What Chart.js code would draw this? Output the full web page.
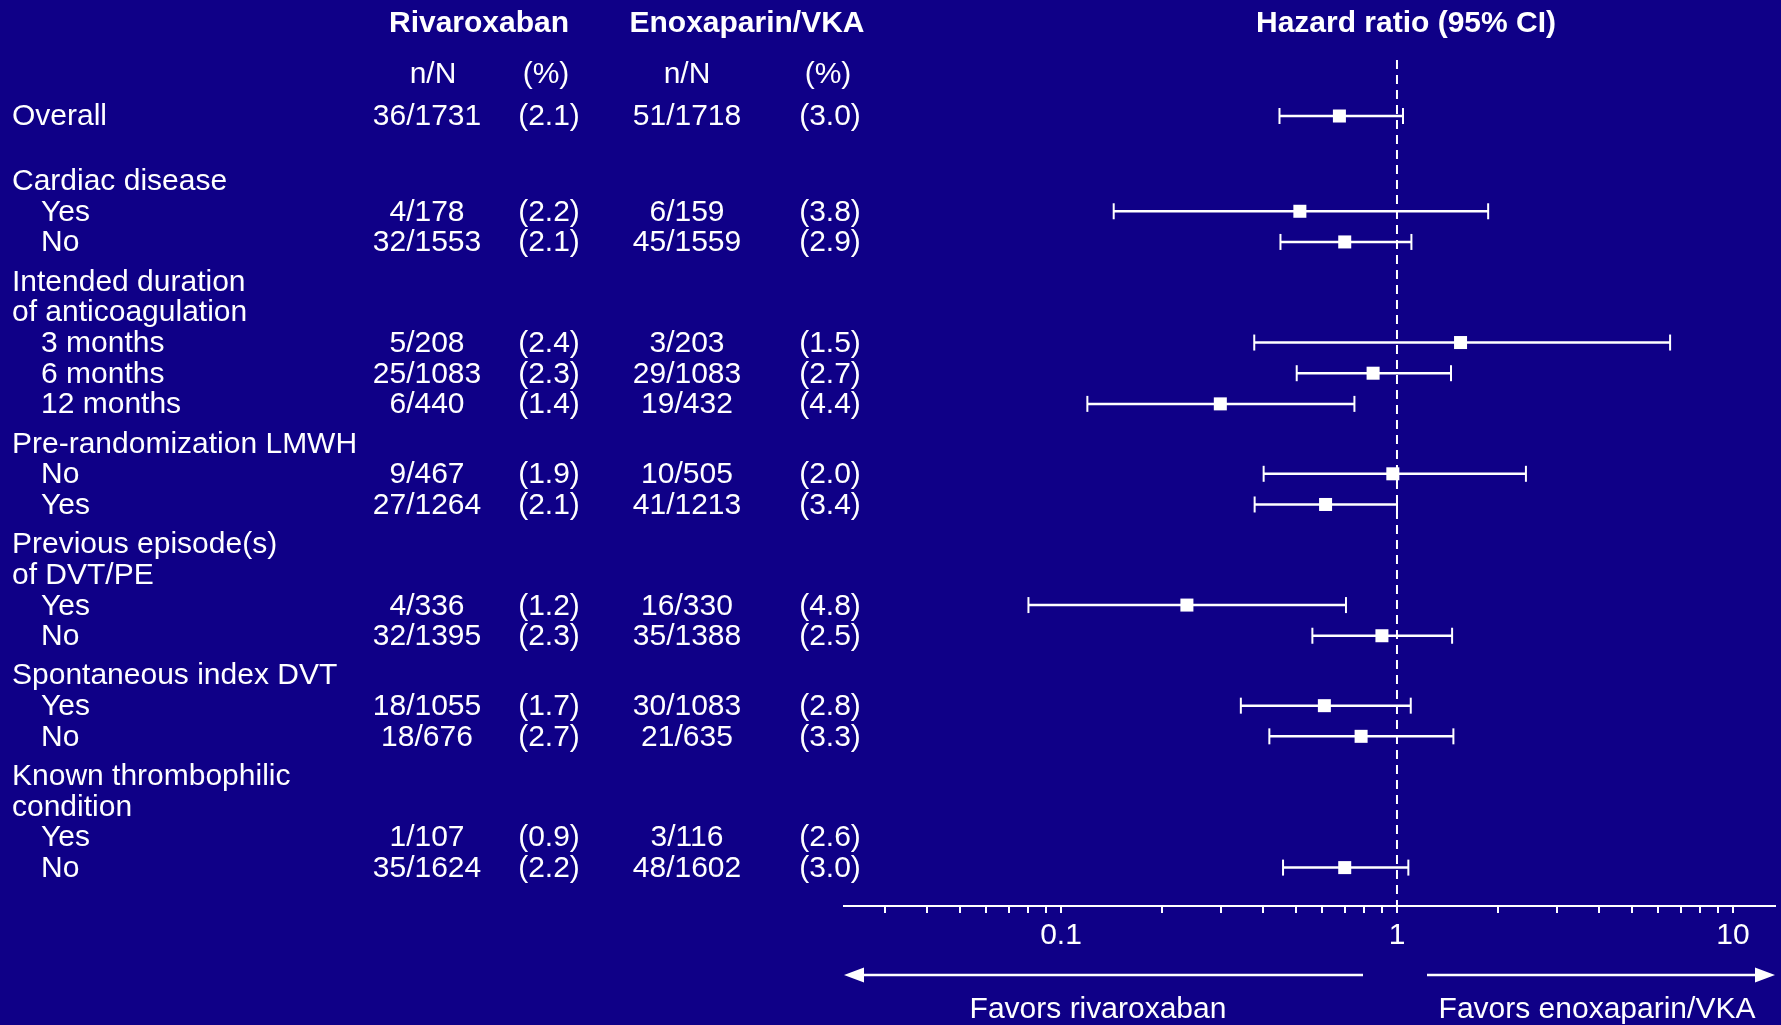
<!DOCTYPE html>
<html>
<head>
<meta charset="utf-8">
<script src="https://cdn.jsdelivr.net/npm/chart.js@4.4.1/dist/chart.umd.min.js"></script>
<style>
html,body{margin:0;padding:0;background:#0f0087;overflow:hidden}
canvas{display:block}
</style>
</head>
<body>
<canvas id="c" width="1781" height="1025"></canvas>
<script>
// ---------------- DATA ----------------
const rowLabels = ['Overall', 'Cardiac disease', 'Yes', 'No', 'Intended duration', 'of anticoagulation',
  '3 months', '6 months', '12 months', 'Pre-randomization LMWH', 'No', 'Yes',
  'Previous episode(s)', 'of DVT/PE', 'Yes', 'No', 'Spontaneous index DVT', 'Yes', 'No',
  'Known thrombophilic', 'condition', 'Yes', 'No'];
const rivEvents  = [36, null, 4, 32, null, null, 5, 25, 6, null, 9, 27, null, null, 4, 32, null, 18, 18, null, null, 1, 35];
const rivTotal   = [1731, null, 178, 1553, null, null, 208, 1083, 440, null, 467, 1264, null, null, 336, 1395, null, 1055, 676, null, null, 107, 1624];
const rivPct     = [2.1, null, 2.2, 2.1, null, null, 2.4, 2.3, 1.4, null, 1.9, 2.1, null, null, 1.2, 2.3, null, 1.7, 2.7, null, null, 0.9, 2.2];
const enoxEvents = [51, null, 6, 45, null, null, 3, 29, 19, null, 10, 41, null, null, 16, 35, null, 30, 21, null, null, 3, 48];
const enoxTotal  = [1718, null, 159, 1559, null, null, 203, 1083, 432, null, 505, 1213, null, null, 330, 1388, null, 1083, 635, null, null, 116, 1602];
const enoxPct    = [3.0, null, 3.8, 2.9, null, null, 1.5, 2.7, 4.4, null, 2.0, 3.4, null, null, 4.8, 2.5, null, 2.8, 3.3, null, null, 2.6, 3.0];
const hazardRatio = [0.674, null, 0.514, 0.699, null, null, 1.546, 0.849, 0.298, null, 0.972, 0.613, null, null, 0.237, 0.902, null, 0.608, 0.782, null, null, null, 0.699];
const ciLower     = [0.447, null, 0.1435, 0.450, null, null, 0.376, 0.503, 0.1198, null, 0.401, 0.377, null, null, 0.080, 0.560, null, 0.343, 0.417, null, null, null, 0.458];
const ciUpper     = [1.042, null, 1.868, 1.104, null, null, 6.50, 1.448, 0.747, null, 2.42, 1.00, null, null, 0.705, 1.459, null, 1.099, 1.472, null, null, null, 1.081];
const majorTicks = [0.1, 1, 10];
const majorTickLabels = ['0.1', '1', '10'];
const minorTicks = [0.03, 0.04, 0.05, 0.06, 0.07, 0.08, 0.09, 0.2, 0.3, 0.4, 0.5, 0.6, 0.7, 0.8, 0.9, 2, 3, 4, 5, 6, 7, 8, 9];
const groupHeaders = ['Rivaroxaban', 'Enoxaparin/VKA'];
const columnHeaders = ['n/N', '(%)', 'n/N', '(%)'];
const plotTitle = 'Hazard ratio (95% CI)';
const favorLabels = ['Favors rivaroxaban', 'Favors enoxaparin/VKA'];

// ---------------- LAYOUT ----------------
const W = 1781, H = 1025;
const BG = '#0f0087', FG = '#ffffff';
const FONT = "'Liberation Sans', Arial, Helvetica, sans-serif";
const FS = 30;
const TXT_DY = 1.2;
const X_MIN = 0.0226, X_MAX = 13.34;
const AXIS_Y = 906;
const Y_MIN = -3, Y_MAX = 25.758;
const FIRST_GAP = 1.106, HEAD_GAP = 0.28;

// row positions (in row units), computed from structure
const rowPos = [];
(function () {
  let p = 0;
  rowLabels.forEach((lab, i) => {
    if (i > 0) {
      p += 1;
      const headStart = rivEvents[i] === null && rivEvents[i - 1] !== null;
      if (headStart) p += (i === 1 ? FIRST_GAP : HEAD_GAP);
    }
    rowPos.push(p);
  });
})();

const allTicks = majorTicks.concat(minorTicks).sort((a, b) => a - b);

// datasets
const datasets = [];
rowLabels.forEach((lab, i) => {
  if (hazardRatio[i] === null) return;
  datasets.push({
    type: 'line',
    data: [{x: ciLower[i], y: rowPos[i]}, {x: ciUpper[i], y: rowPos[i]}],
    borderColor: FG,
    borderWidth: 2.5,
    pointStyle: 'line',
    pointRotation: 90,
    pointRadius: 8,
    pointBorderWidth: 2,
    pointBorderColor: FG,
    pointBackgroundColor: FG,
    fill: false,
    order: 2
  });
});
datasets.push({
  type: 'scatter',
  data: rowLabels.map((l, i) => hazardRatio[i] === null ? null : {x: hazardRatio[i], y: rowPos[i]}).filter(d => d),
  pointStyle: 'rect',
  pointRadius: 9.2,
  backgroundColor: FG,
  borderWidth: 0,
  order: 1
});

const fmtPct = v => '(' + v.toFixed(1) + ')';

const bgPlugin = {
  id: 'bg',
  beforeDraw(chart) {
    const ctx = chart.ctx;
    ctx.save();
    ctx.fillStyle = BG;
    ctx.fillRect(0, 0, chart.width, chart.height);
    ctx.restore();
  },
  beforeDatasetsDraw(chart) {
    const ctx = chart.ctx, xs = chart.scales.x;
    const x = xs.getPixelForValue(1);
    ctx.save();
    ctx.strokeStyle = FG;
    ctx.lineWidth = 2;
    ctx.setLineDash([9, 6]);
    ctx.beginPath();
    ctx.moveTo(x, 60);
    ctx.lineTo(x, chart.chartArea.bottom);
    ctx.stroke();
    ctx.restore();
  }
};

const textPlugin = {
  id: 'texts',
  afterDraw(chart) {
    const ctx = chart.ctx, ys = chart.scales.y;
    ctx.save();
    ctx.fillStyle = FG;
    ctx.textBaseline = 'middle';
    // headers
    ctx.font = 'bold ' + FS + 'px ' + FONT;
    ctx.textAlign = 'center';
    ctx.fillText(groupHeaders[0], 479, 23 + TXT_DY);
    ctx.fillText(groupHeaders[1], 747, 23 + TXT_DY);
    ctx.fillText(plotTitle, 1406, 23 + TXT_DY);
    ctx.font = FS + 'px ' + FONT;
    const hdrX = [433, 546, 687, 828];
    columnHeaders.forEach((t, k) => ctx.fillText(t, hdrX[k], 74 + TXT_DY));
    // rows
    rowLabels.forEach((lab, i) => {
      const y = ys.getPixelForValue(rowPos[i]) + TXT_DY;
      const isSub = i > 0 && rivEvents[i] !== null;
      ctx.textAlign = 'left';
      ctx.fillText(lab, isSub ? 41 : 12, y);
      if (rivEvents[i] !== null) {
        ctx.textAlign = 'center';
        ctx.fillText(rivEvents[i] + '/' + rivTotal[i], 427, y);
        ctx.fillText(fmtPct(rivPct[i]), 549, y);
        ctx.fillText(enoxEvents[i] + '/' + enoxTotal[i], 687, y);
        ctx.fillText(fmtPct(enoxPct[i]), 830, y);
      }
    });
    // arrows
    const ay = 975;
    const left0 = chart.chartArea.left, left1 = 1363;
    const right0 = 1427, right1 = chart.chartArea.right;
    ctx.strokeStyle = FG;
    ctx.lineWidth = 2.5;
    ctx.beginPath();
    ctx.moveTo(left1, ay); ctx.lineTo(left0 + 16, ay);
    ctx.moveTo(right0, ay); ctx.lineTo(right1 - 16, ay);
    ctx.stroke();
    ctx.beginPath();
    ctx.moveTo(left0, ay); ctx.lineTo(left0 + 20, ay - 7.5); ctx.lineTo(left0 + 20, ay + 7.5); ctx.closePath();
    ctx.moveTo(right1, ay); ctx.lineTo(right1 - 20, ay - 7.5); ctx.lineTo(right1 - 20, ay + 7.5); ctx.closePath();
    ctx.fill();
    ctx.textAlign = 'center';
    ctx.fillText(favorLabels[0], 1098, 1009 + TXT_DY);
    ctx.fillText(favorLabels[1], 1597, 1009 + TXT_DY);
    ctx.restore();
  }
};

new Chart(document.getElementById('c'), {
  data: {datasets},
  options: {
    responsive: false,
    devicePixelRatio: 1,
    animation: false,
    events: [],
    layout: {autoPadding: false, padding: {left: 844, right: W - 1775, top: 24, bottom: 0}},
    plugins: {legend: {display: false}, tooltip: {enabled: false}},
    scales: {
      x: {
        type: 'logarithmic',
        position: 'bottom',
        min: X_MIN,
        max: X_MAX,
        afterBuildTicks: s => { s.ticks = allTicks.map(v => ({value: v, major: false})); },
        afterFit: s => { s.height = H - AXIS_Y; s.paddingLeft = 0; s.paddingRight = 0; },
        border: {display: true, color: FG, width: 2},
        grid: {drawOnChartArea: false, drawTicks: true, tickLength: 7, color: FG, lineWidth: 2},
        ticks: {
          autoSkip: false, maxRotation: 0, minRotation: 0, padding: 5, color: FG,
          font: {family: FONT, size: FS},
          callback: (v) => { const k = majorTicks.indexOf(v); return k >= 0 ? majorTickLabels[k] : ''; }
        }
      },
      y: {
        type: 'linear',
        display: false,
        reverse: true,
        min: Y_MIN,
        max: Y_MAX
      }
    }
  },
  plugins: [bgPlugin, textPlugin]
});
</script>
</body>
</html>
